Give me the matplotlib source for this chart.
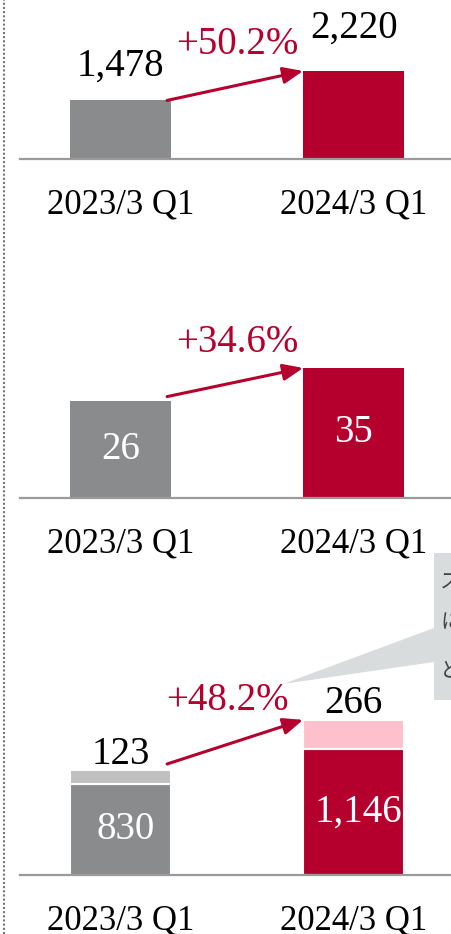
import matplotlib
matplotlib.use("Agg")
import matplotlib.pyplot as plt
from matplotlib.lines import Line2D
from matplotlib.patches import Polygon, Rectangle

plt.rcParams['font.family'] = ['Liberation Serif', 'DejaVu Serif']

#   DATA
periods = ["2023/3 Q1", "2024/3 Q1"]

panel1_values = [1478, 2220]
panel1_labels = ["1,478", "2,220"]
panel1_growth = "+50.2%"

panel2_values = [26, 35]
panel2_labels = ["26", "35"]
panel2_growth = "+34.6%"

panel3_base = [830, 1146]
panel3_top = [123, 266]
panel3_base_labels = ["830", "1,146"]
panel3_top_labels = ["123", "266"]
panel3_growth = "+48.2%"

callout_chars = ["ス", "に", "と"]

#   STYLE
W, H = 451, 934
GRAY = "#898b8d"
LIGHT_GRAY = "#c0c0c0"
RED = "#b5002e"
PINK = "#ffc0cd"
AXIS = "#9a9a9a"
CALLOUT = "#d9dcdd"
BAR_W = 0.433

fig = plt.figure(figsize=(W / 100, H / 100), dpi=100)


def px_axes(base_px, height_px):
    # axes whose bottom edge sits on the baseline (pixel rows from the top)
    ax = fig.add_axes([20 / W, 1 - base_px / H, 431 / W, height_px / H])
    ax.set_xlim(-0.431, 1.418)
    for s in ["top", "left", "right"]:
        ax.spines[s].set_visible(False)
    ax.spines["bottom"].set_color(AXIS)
    ax.spines["bottom"].set_linewidth(1.6)
    ax.set_yticks([])
    ax.set_xticks([0, 1], periods)
    ax.tick_params(axis="x", length=0, pad=21, labelsize=25)
    ax.patch.set_alpha(0)
    return ax


def growth_arrow(ax, y0, y1, text, text_x, text_dy):
    ax.annotate("", xy=(1 - BAR_W / 2, y1), xytext=(0.2, y0),
                arrowprops=dict(arrowstyle="-|>,head_length=0.6,head_width=0.25",
                                color=RED, lw=2.2, shrinkA=0, shrinkB=0,
                                mutation_scale=20))
    ax.annotate(text, xy=(text_x, y1), xytext=(0, text_dy), textcoords="offset pixels",
                ha="center", va="center", color=RED, fontsize=28)


#   PANEL 1
ax1 = px_axes(159, 140)
ax1.set_ylim(0, 2220 * 140 / 88)
ax1.bar([0, 1], panel1_values, width=BAR_W, color=[GRAY, RED])
ax1.annotate(panel1_labels[0], xy=(0, panel1_values[0]), xytext=(0, 34),
             textcoords="offset pixels", ha="center", va="center", fontsize=28)
ax1.annotate(panel1_labels[1], xy=(1, panel1_values[1]), xytext=(0, 43),
             textcoords="offset pixels", ha="center", va="center", fontsize=28)
growth_arrow(ax1, panel1_values[0], panel1_values[1], panel1_growth, 0.5, 26)

#   PANEL 2
ax2 = px_axes(498, 140)
ax2.set_ylim(0, 35 * 140 / 130)
ax2.bar([0, 1], panel2_values, width=BAR_W, color=[GRAY, RED])
for i, (v, lab) in enumerate(zip(panel2_values, panel2_labels)):
    ax2.text(i, v / 2, lab, ha="center", va="center", color="white", fontsize=28)
growth_arrow(ax2, panel2_values[0] * 1.05, panel2_values[1], panel2_growth, 0.5, 26)

#   PANEL 3
ax3 = px_axes(875, 170)
ax3.set_ylim(0, 9.1 * 170)
ax3.bar([0, 1], panel3_base, width=BAR_W, color=[GRAY, RED],
        edgecolor="white", linewidth=1.5)
ax3.bar([0, 1], panel3_top, bottom=panel3_base, width=BAR_W,
        color=[LIGHT_GRAY, PINK], edgecolor="white", linewidth=1.5)
for i in range(2):
    ax3.text(i + 0.02, panel3_base[i] / 2, panel3_base_labels[i], ha="center",
             va="center", color="white", fontsize=28)
    ax3.annotate(panel3_top_labels[i], xy=(i, panel3_base[i] + panel3_top[i]),
                 xytext=(0, 16), textcoords="offset pixels", ha="center",
                 va="center", fontsize=28)
totals3 = [b + t for b, t in zip(panel3_base, panel3_top)]
growth_arrow(ax3, totals3[0] * 1.06, totals3[1], panel3_growth, 0.46, 19)

#   CALLOUT (cut off at the right edge)
fig.add_artist(Polygon([(434 / W, 1 - 628 / H), (283 / W, 1 - 684 / H),
                        (434 / W, 1 - 662 / H)], closed=True,
                       transform=fig.transFigure, facecolor=CALLOUT, edgecolor="none"))
fig.add_artist(Rectangle((434 / W, 1 - 700 / H), 30 / W, 147 / H,
                         transform=fig.transFigure, facecolor=CALLOUT, edgecolor="none"))
for ch, y in zip(callout_chars, [583, 622, 670]):
    fig.text(440 / W, 1 - y / H, ch, ha="left", va="center", fontsize=15,
             color="#444444", family=["Noto Sans CJK JP", "DejaVu Sans"])

#   LEFT DOTTED BORDER
fig.add_artist(Line2D([3.5 / W, 3.5 / W], [0, 1], transform=fig.transFigure,
                      color="#777777", lw=1.5, linestyle=(0, (1, 1))))

fig.savefig("out.png", dpi=100)
